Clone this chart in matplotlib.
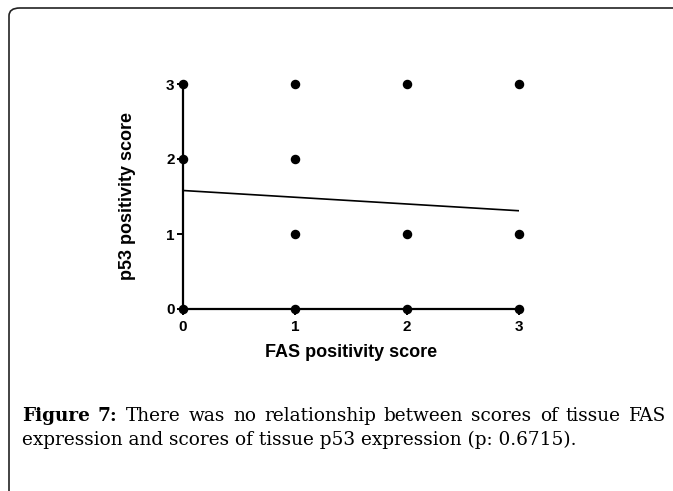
import matplotlib
matplotlib.use("Agg")
import matplotlib.pyplot as plt
from matplotlib.patches import FancyBboxPatch

# Data (FAS score, p53 score)
fas_scores = [0, 0, 0, 1, 1, 1, 1, 2, 2, 2, 3, 3, 3]
p53_scores = [0, 2, 3, 0, 1, 2, 3, 0, 1, 3, 0, 1, 3]
fit_x = [0, 3]
fit_y = [1.58, 1.31]
x_ticks = [0, 1, 2, 3]
y_ticks = [0, 1, 2, 3]
x_label = "FAS positivity score"
y_label = "p53 positivity score"
caption_bold = "Figure 7:"
caption_line1 = "There was no relationship between scores of tissue FAS"
caption_line2 = "expression and scores of tissue p53 expression (p: 0.6715)."

W, H = 673, 491
fig = plt.figure(figsize=(W / 100, H / 100), dpi=100)

# Rounded frame (extends off right/bottom)
frame = FancyBboxPatch((9 / W, -0.2), 1.2, (H - 8) / H + 0.2,
                       boxstyle="round,pad=0,rounding_size=0.016",
                       transform=fig.transFigure, fill=False,
                       edgecolor="#222222", linewidth=1.2, clip_on=False)
fig.patches.append(frame)

ax = fig.add_axes([183 / W, (H - 309) / H, 336 / W, 225 / H])
ax.scatter(fas_scores, p53_scores, s=34, color="black", zorder=5, clip_on=False)
ax.plot(fit_x, fit_y, color="black", linewidth=1.2)
ax.set_xlim(0, 3)
ax.set_ylim(0, 3)
ax.set_xticks(x_ticks)
ax.set_yticks(y_ticks)
for s in ["top", "right"]:
    ax.spines[s].set_visible(False)
for s in ["left", "bottom"]:
    ax.spines[s].set_linewidth(1.6)
ax.tick_params(width=1.4, length=4, direction="out", pad=2)
ax.tick_params(axis="x", pad=4)
for lab in ax.get_xticklabels() + ax.get_yticklabels():
    lab.set_fontfamily("Liberation Sans")
    lab.set_fontweight("bold")
    lab.set_fontsize(11)
ax.set_xlabel(x_label, fontfamily="Liberation Sans", fontweight="bold", fontsize=13, labelpad=7)
ax.set_ylabel(y_label, fontfamily="Liberation Sans", fontweight="bold", fontsize=13, labelpad=22)

# Caption (justified first line)
fig.canvas.draw()
r = fig.canvas.get_renderer()
x0, x1, x2end = 22, 666, 576
fam = "DejaVu Serif"
probe = fig.text(0, 0, caption_line2, fontfamily=fam, fontsize=12)
pw = probe.get_window_extent(r).width
probe.remove()
fs = 12 * (x2end - x0) / pw
y1 = H - 421
y2 = H - 445
words = [(w, "bold") for w in caption_bold.split()] + [(w, "normal") for w in caption_line1.split()]
texts = []
total = 0
for w, wt in words:
    t = fig.text(0, y1 / H, w, fontfamily=fam, fontweight=wt, fontsize=fs, va="baseline")
    bb = t.get_window_extent(r)
    texts.append((t, bb.width))
    total += bb.width
gap = (x1 - x0 - total) / (len(words) - 1)
x = x0
for t, wd in texts:
    t.set_x(x / W)
    x += wd + gap
fig.text(x0 / W, y2 / H, caption_line2, fontfamily=fam, fontsize=fs, va="baseline")

fig.savefig("out.png", dpi=100)
